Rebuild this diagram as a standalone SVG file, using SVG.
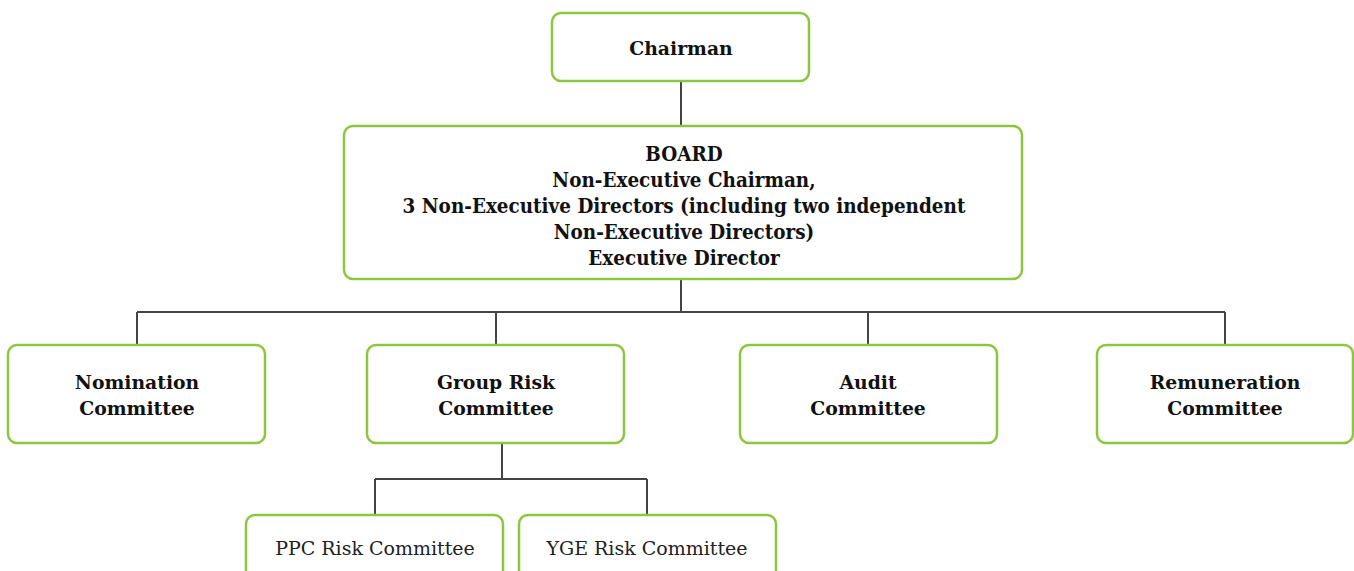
<svg xmlns="http://www.w3.org/2000/svg" width="1354" height="571" viewBox="0 0 1354 571">
  <style>
    .box { fill: #ffffff; stroke: #8cc63f; stroke-width: 2.5; }
    .lnk { fill: none; stroke: #444444; stroke-width: 2; }
    .t { font-family: "DejaVu Serif", "Liberation Serif", serif; font-size: 18.8px; font-weight: bold; fill: #111111; text-anchor: middle; }
    .b { font-family: "DejaVu Serif", "Liberation Serif", serif; font-size: 20px; font-weight: bold; fill: #111111; text-anchor: middle; }
    .r { font-family: "DejaVu Serif", "Liberation Serif", serif; font-size: 19px; fill: #222222; text-anchor: middle; }
  </style>
  <rect width="1354" height="571" fill="#ffffff"/>

  <g id="connectors">
    <path class="lnk" d="M681 81 V126"/>
    <path class="lnk" d="M681 279 V312 M137 312 H1225 M137 312 V345 M496 312 V345 M868 312 V345 M1225 312 V345"/>
    <path class="lnk" d="M502 443 V479 M375 479 H647 M375 479 V515 M647 479 V515"/>
  </g>

  <g id="chairman">
    <rect class="box" x="552" y="13" width="257" height="68" rx="9"/>
    <text class="t" x="681" y="55">Chairman</text>
  </g>

  <g id="board">
    <rect class="box" x="344" y="126" width="678" height="153" rx="9"/>
    <!-- narrowed lettering for the board composition -->
    <g transform="translate(684 0) scale(0.92 1)">
      <text class="b" x="0" y="161">BOARD</text>
      <text class="b" x="0" y="187">Non-Executive Chairman,</text>
      <text class="b" x="0" y="213">3 Non-Executive Directors (including two independent</text>
      <text class="b" x="0" y="239">Non-Executive Directors)</text>
      <text class="b" x="0" y="265">Executive Director</text>
    </g>
  </g>

  <g id="nomination">
    <rect class="box" x="8" y="345" width="257" height="98" rx="9"/>
    <text class="t" x="137" y="389">Nomination</text>
    <text class="t" x="137" y="415">Committee</text>
  </g>

  <g id="group-risk">
    <rect class="box" x="367" y="345" width="257" height="98" rx="9"/>
    <text class="t" x="496" y="389">Group Risk</text>
    <text class="t" x="496" y="415">Committee</text>
  </g>

  <g id="audit">
    <rect class="box" x="740" y="345" width="257" height="98" rx="9"/>
    <text class="t" x="868" y="389">Audit</text>
    <text class="t" x="868" y="415">Committee</text>
  </g>

  <g id="remuneration">
    <rect class="box" x="1097" y="345" width="256" height="98" rx="9"/>
    <text class="t" x="1225" y="389">Remuneration</text>
    <text class="t" x="1225" y="415">Committee</text>
  </g>

  <g id="ppc-risk">
    <rect class="box" x="246" y="515" width="257" height="80" rx="9"/>
    <text class="r" x="375" y="555">PPC Risk Committee</text>
  </g>

  <g id="yge-risk">
    <rect class="box" x="519" y="515" width="257" height="80" rx="9"/>
    <text class="r" x="647" y="555">YGE Risk Committee</text>
  </g>
</svg>
